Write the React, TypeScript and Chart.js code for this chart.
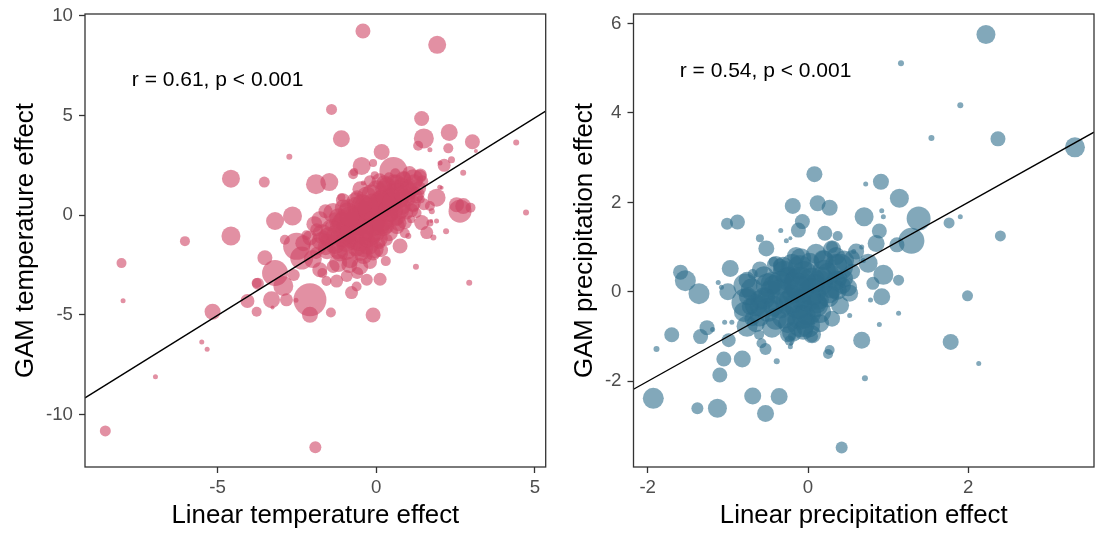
import React, { useEffect, useRef } from "react";
import { Chart, registerables } from "chart.js";

Chart.register(...registerables);

// ---------------- Left panel: temperature ----------------
const tempX = [
  -0.42, 1.92, -1.41, 1.43, 1.50, 2.30, 3.03, -1.10, 1.32, 1.69,
  2.27, 2.37, 3.14, 4.41, -2.74, 0.17, 2.14, 2.74, -0.46, -0.10,
  0.54, -0.73, -4.58, -3.53, -1.90, -1.48, 1.17, 1.90, 1.69, 2.06,
  2.64, 2.74, 2.97, 4.72, 2.93, 1.25, 1.01, 1.80, 1.90, 1.43,
  1.59, 0.75, -3.19, -2.64, -4.58, -6.03, -8.03, -7.98, -5.50, -5.33,
  -6.96, -8.54, -1.92, -5.16, -4.06, -3.77, -3.73, -3.51, -3.19, -2.93,
  -3.77, -3.30, -2.83, -3.27, -2.53, -2.09, -2.09, -1.43, -0.10, 0.12,
  -0.78, -1.25, -1.57, -0.93, -1.78, -2.35, -2.51, -2.88, -2.09, -1.67,
  -1.15, -1.78, -1.36, -1.04, -0.62, -0.30, 0.01, 0.33, 0.64, 0.96,
  1.06, 0.75, 0.43, 0.12, -0.20, -0.52, -0.83, -1.04, -0.62, -0.30,
  0.01, 0.33, 0.64, 0.96, 1.17, -0.83, -0.52, -1.15, -0.10, 0.33,
  -1.36, -0.30, -0.62, -1.57, -1.88, -1.46, -0.93, 1.38, -0.41, 2.53,
  1.27, 1.69, 2.01, -0.10, 0.20, 0.50, 0.80, -0.40, -0.70, -1.00,
  0.30, 0.00, -0.30, 0.60, 1.00, 0.90, -0.60, -0.90, -1.30, -1.60,
  -1.20, -0.50, 0.20, 0.50, 0.70, -0.20, 0.40, 1.20, 1.40, -1.90,
  -2.20, 0.10, -0.80, 0.90, 1.10, -0.05, 0.60, -1.10, -1.70, -0.60,
  0.30, -2.60, -0.70, 1.05, 1.39, 1.73, 1.75, 2.20, 2.00, -0.20,
  -1.85, -1.70, -1.55, -1.40, -1.30, -1.20, -1.10, -0.95, -0.90, -0.80,
  -0.70, -0.65, -0.55, -0.45, -0.40, -0.35, -0.25, -0.15, -0.10, 0.00,
  0.05, 0.15, 0.20, 0.25, 0.35, 0.40, 0.45, 0.55, 0.55, 0.65,
  0.70, 0.80, 0.85, 0.90, 0.95, 1.05, 1.10, 1.20, 1.25, 1.35,
  1.45, 1.50, -2.00, -1.95, -2.30, -1.60, -0.85, -0.20, 0.15, -0.50,
  0.10, -1.05, -0.30, 0.30, -0.65, -1.00, 0.70, -0.20,
  -1.50, -1.25, -1.05, -0.95, -0.75, -0.60, -0.50, -0.35, -0.25, -0.15,
  0.00, 0.10, 0.20, 0.30, 0.40, 0.50, 0.60, 0.75, 0.85, 1.00,
  1.15, -0.45, -0.85, -1.20, -0.40, 0.25, -1.75, -0.05, 0.65, 1.30,
];
const tempY = [
  9.23, 8.54, 5.30, 4.85, 3.85, 4.15, 3.68, 3.83, 3.48, 3.28,
  3.35, 2.78, 3.22, 3.64, 2.93, 3.17, 2.50, 2.13, 2.47, 2.62,
  2.22, 2.05, 1.83, 1.66, 1.55, 1.66, 1.80, 0.88, 0.46, 1.38,
  0.20, 0.46, 0.38, 0.14, -3.38, -2.58, -1.04, -1.12, -0.29, -0.37,
  -0.87, -1.54, -0.29, -0.04, -1.04, -1.30, -2.40, -4.29, -6.35, -6.72,
  -8.10, -10.81, -11.63, -4.84, -4.30, -4.84, -3.43, -2.13, -2.90, -3.55,
  -3.40, -4.24, -4.24, -4.63, -4.26, -4.24, -4.99, -4.88, -5.00, -3.21,
  -3.88, -3.30, -3.30, -3.05, -2.73, -2.15, -1.56, -1.23, -1.14, -1.06,
  -0.56, -0.23, 0.11, 0.36, 0.44, 0.94, 1.28, 1.44, 1.61, 1.44,
  1.11, 0.78, 0.44, 0.11, -0.23, -0.56, -0.89, -1.23, -1.56, -1.23,
  -0.89, -0.56, -0.23, 0.11, 0.44, -2.23, -2.57, -1.89, -1.89, -1.23,
  -2.57, -3.23, -3.57, -1.23, -0.73, -0.56, -0.23, 1.95, 1.61, 0.53,
  0.11, -0.39, 2.62, 0.50, 0.80, 1.20, 1.50, 0.10, -0.30, -0.60,
  0.30, -0.30, -0.60, 0.50, 0.90, 1.90, 0.90, 0.40, -0.20, -1.60,
  -2.40, -1.80, -0.60, 0.00, -0.40, 1.70, 1.90, 1.20, 0.80, -1.90,
  -1.00, -1.40, -1.30, -0.90, -0.20, 2.00, 2.10, 0.90, -2.90, -2.90,
  -2.30, -3.00, 2.16, 2.11, 2.02, -0.29, 0.20, -0.80, 1.40, 0.20,
  -1.55, -0.95, -1.75, -0.75, -1.45, -0.10, -1.05, -1.75, 0.15, -0.55,
  -1.20, 0.70, -0.05, -0.85, -2.00, 0.45, -1.50, 1.05, -0.45, 0.25,
  -1.15, 0.70, -0.25, 1.30, 0.10, -0.85, 0.90, 1.65, 0.30, -0.55,
  1.15, 0.45, 1.80, -0.35, 0.85, 1.45, 0.25, 1.65, 0.95, 1.35,
  1.70, 0.55, -2.20, -0.45, -1.40, 0.20, -2.50, -2.35, -1.75, 1.30,
  1.70, 0.75, 0.05, 0.50, -0.40, -0.30, 0.80, -1.00,
  -1.10, -0.95, -0.40, -1.35, -0.85, -0.20, -1.25, -0.35, 0.35, -0.75,
  0.00, 0.55, -0.55, 0.95, 0.20, 0.65, 1.30, 0.25, 1.05, 1.30,
  0.60, 0.55, -0.05, -1.75, -1.60, 1.60, -1.30, -1.70, -0.05, 1.05,
];
const tempSize = [
  7.5, 9, 5.5, 7.5, 10, 8.5, 7.5, 8.5, 5, 2.5,
  5, 3.5, 2, 3, 3, 8, 6.5, 3, 9, 4,
  14, 5, 9, 5.5, 10, 9, 10, 9, 5, 2,
  11.5, 8, 5, 3, 3, 3, 3, 3, 2.5, 7.5,
  6.5, 7.5, 9, 9.5, 9.5, 5, 5, 2.5, 2.5, 2.5,
  2.5, 5.5, 6, 8, 7, 5, 6, 7.5, 13, 10,
  5, 8.5, 6.5, 2, 2.5, 16.5, 8, 5, 7.5, 6.5,
  6.5, 6.5, 5, 6, 7.5, 11.5, 13.5, 5, 7.5, 6,
  10, 8.5, 10, 8.5, 10, 10, 9.5, 9.5, 8.5, 7.5,
  6.5, 8.5, 8.5, 9.5, 9.5, 9.5, 9.5, 8.5, 10, 8.5,
  8.5, 7.5, 6.5, 6.5, 6, 8.5, 8.5, 8.5, 7.5, 6,
  6.5, 6, 5, 6.5, 6.5, 5, 7.5, 6.5, 2.5, 7.5,
  5, 3.5, 2.5, 12, 10, 9, 8, 12, 10, 9,
  8, 10, 9, 7, 6, 6, 7, 8, 7, 8,
  9, 10, 7, 6, 8, 6, 5, 5, 4, 6,
  5, 6, 7, 5, 4, 4, 5, 4, 5, 6,
  5, 6, 4, 7, 6.5, 2, 3, 3, 2.5, 11,
  9, 10, 9, 11, 10, 9, 11, 10, 10, 12,
  11, 9, 12, 12, 9, 11, 10, 10, 12, 12,
  10, 11, 11, 9, 11, 9, 10, 8, 10, 8,
  10, 9, 8, 7, 9, 8, 7, 8, 7, 7,
  6, 6, 9, 8, 8, 7, 8, 7, 7, 8,
  8, 7, 12, 12, 12, 11, 10, 11,
  10, 10, 11, 10, 12, 12, 11, 12, 11, 12,
  12, 11, 10, 10, 11, 10, 9, 9, 9, 8,
  8, 10, 10, 9, 10, 8, 9, 9, 9, 7,
];
const tempXRange = [-9.18, 5.34];
const tempYRange = [-12.62, 10.085];
const tempXTicks = [-5, 0, 5];
const tempYTicks = [-10, -5, 0, 5, 10];
const tempFit = [-0.07, 0.99]; // intercept, slope
const tempLabel = "r = 0.61, p < 0.001";
const tempLabelAt = [-5.0, 6.75];

// ---------------- Right panel: precipitation ----------------
const precX = [
  2.22, 1.16, 1.90, 1.54, 2.37, 3.33, 0.42, 0.71, -1.01, -0.88,
  -0.97, -1.59, -1.53, -1.36, -1.12, -1.08, -0.69, -0.78, -1.00, -0.78,
  -1.70, -1.89, -1.93, -1.38, -1.13, -1.10, -1.05, -0.82, -0.69, -0.53,
  -0.36, -0.39, -0.53, -0.23, -0.22, -1.34, -1.26, -1.19, -1.04, -0.95,
  -0.99, -0.76, -0.61, -0.43, -0.13, -0.43, -0.52, -0.60, -0.35, -0.26,
  -0.09, -0.09, 0.00, -0.26, 0.17, 0.26, 0.43, 0.13, -0.09, -0.43,
  0.08, 0.72, 0.91, 1.14, 1.38, 1.29, 1.76, 1.90, 2.40, 1.99,
  1.78, 2.13, -0.19, 0.12, 0.27, -0.07, -0.12, -0.34, -0.27, -0.22,
  -0.52, 0.21, 0.37, 0.70, 0.94, 0.92, 0.89, 0.85, 1.11, 0.67,
  0.57, 0.69, 0.75, 0.94, 1.13, 0.81, 0.92, 0.78, 0.52, 0.89,
  1.13, 0.67, 0.27, 0.25, -0.20, -0.21, -0.58, 0.05, -0.60, -0.10,
  0.40, 0.19, 0.02, -0.31, -0.47, -0.60, -0.35, -0.10, 0.11, 0.36,
  0.52, 0.40, 0.09, -0.20, -0.72, -0.70, -0.76, -0.06, 0.55, 0.30,
  -0.80, -0.70, -0.65, -0.55, -0.50, -0.45, -0.40, -0.35, -0.30, -0.25,
  -0.20, -0.15, -0.12, -0.05, 0.00, 0.05, 0.10, 0.15, 0.20, 0.25,
  0.30, 0.35, 0.40, 0.45, 0.50, 0.55, -0.60, -0.75, 0.05, -0.25,
  0.60, 0.30, -0.45, 0.15, -0.10, -0.55, 0.35, -0.20,
  -0.65, -0.50, -0.40, -0.30, -0.20, -0.10, -0.05, 0.05, 0.10, 0.20,
  0.30, 0.35, 0.45, -0.60, -0.35, 0.00, -0.15, 0.25, -0.25, 0.15,
];
const precY = [
  5.75, 5.11, 4.17, 3.44, 3.42, 3.23, -3.48, -1.93, 1.52, 1.56,
  0.52, 0.44, 0.25, -0.04, 0.21, 0.10, 0.40, 0.14, 0.00, -0.24,
  -0.96, -1.28, -2.38, -2.60, -2.60, -1.86, -1.50, -1.50, -2.33, -2.72,
  -2.34, -1.55, -1.28, -1.09, -1.23, -1.00, -0.80, -0.84, -0.68, -0.68,
  -1.08, -0.77, -0.96, -0.32, 0.21, 0.14, -0.09, -0.32, 0.59, 0.36,
  0.74, -0.70, -0.47, -0.24, 0.29, -0.02, 0.14, -0.17, -0.17, 0.67,
  2.63, 2.41, 2.46, 2.09, 1.64, 1.14, 1.54, 1.68, 1.25, -0.09,
  -1.12, -1.60, 1.92, 1.98, 1.88, 1.57, 1.38, 1.37, 1.14, 1.20,
  0.97, 1.31, 1.25, 1.68, 1.68, 1.81, 1.36, 1.08, 1.05, 1.00,
  0.90, 0.70, 0.64, 0.38, 0.26, 0.19, -0.11, -0.18, -0.53, -0.73,
  -0.48, -1.08, -1.30, -1.39, -1.00, -1.16, -1.15, -1.00, 1.20, 0.19,
  0.56, 0.71, 0.65, 0.56, 0.04, -0.18, -0.33, -0.56, -0.26, 0.04,
  -0.03, 0.30, 0.19, -0.05, -0.33, -0.60, 0.26, -0.85, 0.75, 1.00,
  -0.45, 0.05, -0.70, 0.35, -0.40, -0.80, 0.60, 0.00, -0.55, 0.30,
  -0.90, 0.80, -0.30, 0.40, -0.75, 0.00, 0.85, -0.45, 0.45, -0.10,
  0.95, 0.25, -0.30, 0.70, 0.10, 0.45, 0.50, -0.10, -0.95, -0.95,
  0.90, -0.60, 0.20, 0.20, 0.05, -0.15, 0.60, 0.60,
  -0.30, 0.15, -0.60, 0.45, -0.20, 0.55, -0.55, 0.25, -0.30, 0.70,
  0.10, 0.80, 0.30, -0.55, 0.20, -0.15, 0.15, 0.40, -0.70, -0.70,
];
const precSize = [
  9.5, 3, 3, 3, 7.5, 10, 6, 3, 6, 7.5,
  8.5, 7.5, 10.5, 10.5, 2.5, 2.5, 5, 12, 8.5, 14,
  7.5, 3, 10.5, 6, 9.5, 7.5, 7.5, 8.5, 8.5, 8.5,
  8.5, 3, 6, 5, 2.5, 7.5, 7.5, 2.5, 2.5, 2.5,
  7, 10.5, 5, 10.5, 14, 10.5, 8.5, 10.5, 7, 8.5,
  10.5, 14, 13, 12, 12, 10.5, 8.5, 10.5, 10.5, 5,
  8, 2.5, 8, 9.5, 12, 13, 5.5, 2.5, 5.5, 5.5,
  8, 2.5, 8, 8, 8, 7.5, 7.5, 2.5, 2.5, 2,
  8, 7.5, 5, 9.5, 2.5, 2.5, 7.5, 8.5, 7.5, 2.5,
  2.5, 2.5, 9.5, 10, 5.5, 6.5, 8.5, 2.5, 2.5, 2.5,
  2.5, 8.5, 5, 5, 4, 2, 5, 6, 4, 16.5,
  13, 10, 10, 10, 10, 10, 12, 13, 10, 10,
  8.5, 7.5, 10, 10, 8.5, 7.5, 8.5, 10, 8, 6,
  10, 11, 9, 10, 12, 10, 9, 13, 12, 12,
  10, 9, 14, 13, 12, 14, 10, 11, 12, 11,
  9, 10, 9, 10, 9, 8, 8, 9, 9, 8,
  8, 8, 11, 13, 14, 11, 11, 11,
  11, 12, 11, 11, 13, 12, 12, 13, 12, 10,
  11, 9, 9, 10, 12, 13, 13, 11, 10, 9,
];
const precXRange = [-2.177, 3.568];
const precYRange = [-3.915, 6.21];
const precXTicks = [-2, 0, 2];
const precYTicks = [-2, 0, 2, 4, 6];
const precFit = [0.0, 1.0]; // intercept, slope
const precLabel = "r = 0.54, p < 0.001";
const precLabelAt = [-0.53, 4.93];

const FONT = '"Liberation Sans", Arial, Helvetica, sans-serif';
const H = 533;

const decorPlugin = {
  id: "decor",
  afterDraw(chart: any, _args: any, opts: any) {
    const { ctx, chartArea, scales } = chart;
    ctx.save();
    ctx.fillStyle = "#000000";
    ctx.font = `${opts.labelSize}px ${FONT}`;
    ctx.textAlign = "center";
    ctx.textBaseline = "middle";
    ctx.fillText(
      opts.label,
      scales.x.getPixelForValue(opts.at[0]),
      scales.y.getPixelForValue(opts.at[1])
    );
    ctx.strokeStyle = "#333333";
    ctx.lineWidth = 1.3;
    ctx.strokeRect(
      chartArea.left,
      chartArea.top,
      chartArea.right - chartArea.left,
      chartArea.bottom - chartArea.top
    );
    ctx.restore();
  },
};

type PanelProps = {
  offset: number;
  width: number;
  area: { left: number; right: number; top: number; bottom: number };
  xs: number[];
  ys: number[];
  sizes: number[];
  xRange: number[];
  yRange: number[];
  xTicks: number[];
  yTicks: number[];
  fit: number[];
  label: string;
  labelAt: number[];
  color: string;
  xTitle: string;
  yTitle: string;
  yTitlePad: number;
};

function Panel(p: PanelProps) {
  const ref = useRef<HTMLCanvasElement>(null);
  useEffect(() => {
    if (!ref.current) return;
    const bubbles = p.xs.map((x, i) => ({ x, y: p.ys[i], r: p.sizes[i] }));
    const line = p.xRange.map((x) => ({ x, y: p.fit[0] + p.fit[1] * x }));
    const tickFont = { family: FONT, size: 18.7 };
    const titleFont = { family: FONT, size: 25.8 };
    const grid = {
      display: true,
      drawOnChartArea: false,
      drawTicks: true,
      tickLength: 6,
      tickWidth: 1.3,
      tickColor: "#333333",
    };
    const chart = new Chart(ref.current, {
      type: "bubble",
      data: {
        datasets: [
          {
            type: "scatter",
            data: line,
            showLine: true,
            borderColor: "#000000",
            borderWidth: 1.4,
            pointRadius: 0,
            fill: false,
            order: 0,
          } as any,
          {
            type: "bubble",
            data: bubbles,
            backgroundColor: p.color,
            borderWidth: 0,
            borderColor: "rgba(0,0,0,0)",
            order: 1,
          } as any,
        ],
      },
      options: {
        responsive: false,
        animation: false,
        devicePixelRatio: 1,
        events: [],
        layout: {
          autoPadding: false,
          padding: {
            left: 0,
            top: p.area.top,
            right: p.width - p.area.right,
            bottom: 0,
          },
        },
        plugins: {
          legend: { display: false },
          tooltip: { enabled: false },
          decor: { label: p.label, at: p.labelAt, labelSize: 21 },
        } as any,
        scales: {
          x: {
            type: "linear",
            position: "bottom",
            min: p.xRange[0],
            max: p.xRange[1],
            grid,
            border: { display: false },
            ticks: {
              color: "#4D4D4D",
              font: tickFont,
              padding: 4,
              maxRotation: 0,
              autoSkip: false,
              callback: (v: any) => String(v),
            },
            title: {
              display: true,
              text: p.xTitle,
              color: "#000000",
              font: titleFont,
              padding: { top: 0, bottom: 1.5 },
            },
            afterBuildTicks: (s: any) => {
              s.ticks = p.xTicks.map((v) => ({ value: v }));
            },
            afterFit: (s: any) => {
              s.height = H - p.area.bottom;
              s.paddingLeft = 0;
              s.paddingRight = 0;
              s.paddingTop = 0;
              s.paddingBottom = 0;
            },
          },
          y: {
            type: "linear",
            position: "left",
            min: p.yRange[0],
            max: p.yRange[1],
            grid,
            border: { display: false },
            ticks: {
              color: "#4D4D4D",
              font: tickFont,
              padding: 6,
              autoSkip: false,
              callback: (v: any) => String(v),
            },
            title: {
              display: true,
              text: p.yTitle,
              color: "#000000",
              font: titleFont,
              padding: { top: p.yTitlePad, bottom: 0 },
            },
            afterBuildTicks: (s: any) => {
              s.ticks = p.yTicks.map((v) => ({ value: v }));
            },
            afterFit: (s: any) => {
              s.width = p.area.left;
              s.paddingLeft = 0;
              s.paddingRight = 0;
              s.paddingTop = 0;
              s.paddingBottom = 0;
            },
          },
        },
      } as any,
      plugins: [decorPlugin as any],
    });
    return () => chart.destroy();
  }, []);
  return (
    <canvas
      ref={ref}
      width={p.width}
      height={H}
      style={{
        position: "absolute",
        left: p.offset,
        top: 0,
        width: p.width,
        height: H,
        display: "block",
      }}
    />
  );
}

export default function App() {
  return (
    <div
      style={{
        position: "fixed",
        left: 0,
        top: 0,
        width: 1100,
        height: H,
        background: "#ffffff",
        overflow: "hidden",
      }}
    >
      <Panel
        offset={0}
        width={565}
        area={{ left: 85, right: 545.7, top: 14, bottom: 467 }}
        xs={tempX}
        ys={tempY}
        sizes={tempSize}
        xRange={tempXRange}
        yRange={tempYRange}
        xTicks={tempXTicks}
        yTicks={tempYTicks}
        fit={tempFit}
        label={tempLabel}
        labelAt={tempLabelAt}
        color="rgba(206, 70, 102, 0.6)"
        xTitle="Linear temperature effect"
        yTitle="GAM temperature effect"
        yTitlePad={10.5}
      />
      <Panel
        offset={565}
        width={535}
        area={{ left: 68.5, right: 529, top: 14, bottom: 467 }}
        xs={precX}
        ys={precY}
        sizes={precSize}
        xRange={precXRange}
        yRange={precYRange}
        xTicks={precXTicks}
        yTicks={precYTicks}
        fit={precFit}
        label={precLabel}
        labelAt={precLabelAt}
        color="rgba(47, 110, 140, 0.6)"
        xTitle="Linear precipitation effect"
        yTitle="GAM precipitation effect"
        yTitlePad={4.5}
      />
    </div>
  );
}
